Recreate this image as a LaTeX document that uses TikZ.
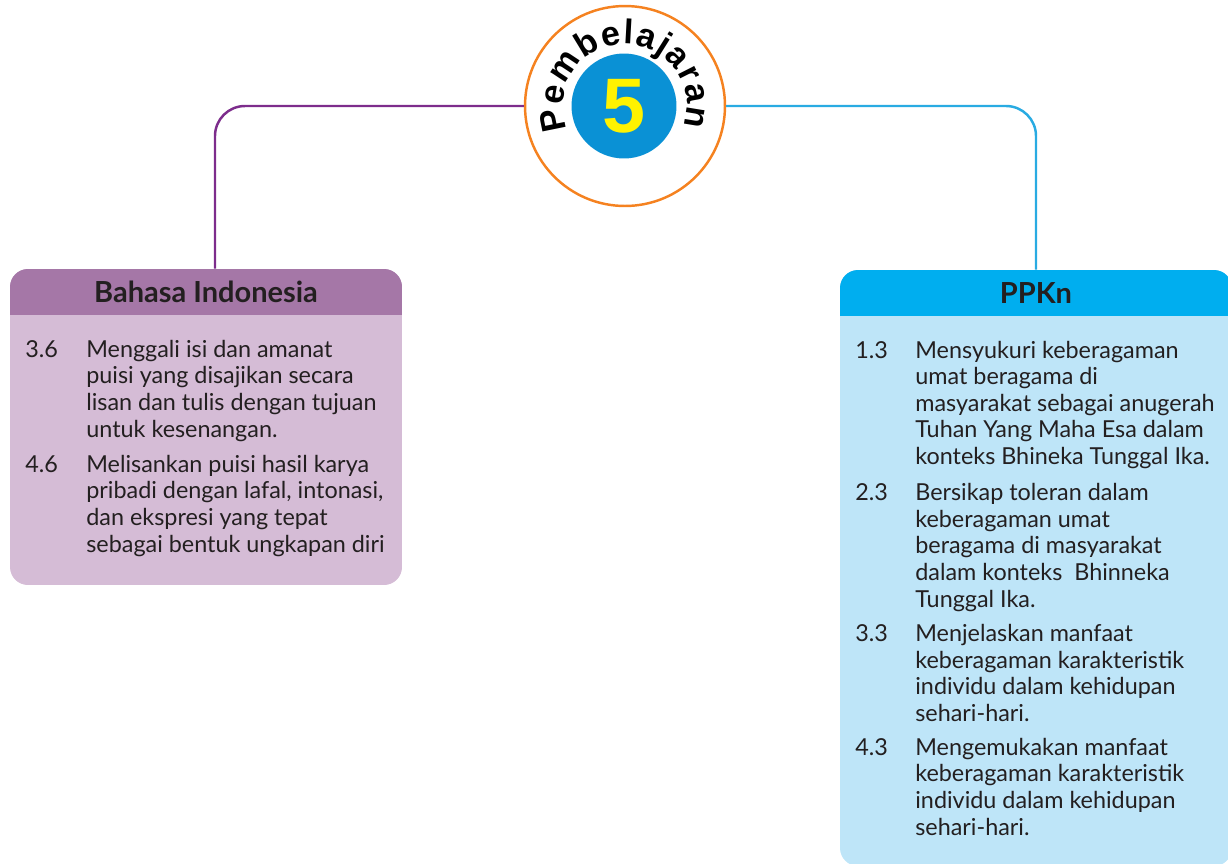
\documentclass[tikz,border=0pt]{standalone}
\usepackage{fontspec}
\setmainfont{Lato}
\newfontfamily\numfont{Liberation Sans}
\usepackage{xcolor}
\usetikzlibrary{positioning,decorations.text}

\definecolor{ink}{RGB}{35,31,32}
\definecolor{orng}{RGB}{245,130,32}
\definecolor{numblue}{RGB}{10,145,213}
\definecolor{numyellow}{RGB}{255,242,0}
\definecolor{bilink}{RGB}{125,45,140}
\definecolor{bihead}{RGB}{165,119,167}
\definecolor{bibody}{RGB}{213,188,214}
\definecolor{pplink}{RGB}{41,171,226}
\definecolor{pphead}{RGB}{0,174,239}
\definecolor{ppbody}{RGB}{190,229,248}

\newcommand{\pbfont}{\numfont\bfseries\fontsize{19.5}{19.5}\selectfont}

\begin{document}
\begin{tikzpicture}[x=0.02cm, y=0.02cm,
  txt/.style={font=\fontsize{13.3}{15.1}\selectfont, text=ink, inner sep=0pt, anchor=base west, align=left},
  headtxt/.style={font=\fontsize{16.5}{18}\selectfont\bfseries, text=ink, inner sep=0pt,
                  minimum width=7.84cm, minimum height=0.92cm},
  link/.style={line width=1.4pt, rounded corners=0.6cm}]
  \useasboundingbox (0,0) rectangle (1228,-863);

  % Bahasa Indonesia (multi-line nodes sit on their last baseline)
  \begin{scope}
    \clip[rounded corners=0.36cm] (10,-269) rectangle (402,-585);
    \fill[bibody] (10,-269) rectangle (402,-585);
    \node[headtxt, fill=bihead] (bahasa) at (206,-292) {Bahasa Indonesia};
  \end{scope}
  \node[txt] (n36) at (25,-357) {3.6};
  \node[txt] (t36) at (86,-437) {Menggali isi dan amanat\\puisi yang disajikan secara\\lisan dan tulis dengan tujuan\\untuk kesenangan.};
  \node[txt] (n46) at (25,-472) {4.6};
  \node[txt] (t46) at (86,-552) {Melisankan puisi hasil karya\\pribadi dengan lafal, intonasi,\\dan ekspresi yang tepat\\sebagai bentuk ungkapan diri};

  % PPKn
  \begin{scope}
    \clip[rounded corners=0.36cm] (840,-270) rectangle (1232,-866);
    \fill[ppbody] (840,-270) rectangle (1232,-866);
    \node[headtxt, fill=pphead] (ppkn) at (1036,-293) {PPKn};
  \end{scope}
  \node[txt] (n13) at (855,-358) {1.3};
  \node[txt] (t13) at (915,-464.5) {Mensyukuri keberagaman\\umat beragama di\\masyarakat sebagai anugerah\\Tuhan Yang Maha Esa dalam\\konteks Bhineka Tunggal Ika.};
  \node[txt] (n23) at (855,-500.5) {2.3};
  \node[txt] (t23) at (915,-607) {Bersikap toleran dalam\\keberagaman umat\\beragama di masyarakat\\dalam konteks\ \ Bhinneka\\Tunggal Ika.};
  \node[txt] (n33) at (855,-641.5) {3.3};
  \node[txt] (t33) at (915,-721.5) {Menjelaskan manfaat\\keberagaman karakteristik\\individu dalam kehidupan\\sehari-hari.};
  \node[txt] (n43) at (855,-755) {4.3};
  \node[txt] (t43) at (915,-835) {Mengemukakan manfaat\\keberagaman karakteristik\\individu dalam kehidupan\\sehari-hari.};

  % Pembelajaran 5
  \node[circle, draw=orng, line width=1.4pt, fill=white, minimum size=4cm, inner sep=0pt] (pb) at (625,-106) {};
  \node[circle, fill=numblue, minimum size=2.1cm, inner sep=0pt, text=numyellow,
        font=\numfont\bfseries\fontsize{44}{44}\selectfont] (five) at (624,-106) {5};
  \path[decorate, decoration={text along path, text align=fit to path,
        text={|\pbfont|Pembelajaran}}]
    ([shift={(202:62)}]pb.center) arc[start angle=202, end angle=-19, radius=62];

  \draw[link, bilink] (pb.west) -| ([xshift=0.18cm]bahasa.north);
  \draw[link, pplink] (pb.east) -| (ppkn.north);
\end{tikzpicture}
\end{document}
